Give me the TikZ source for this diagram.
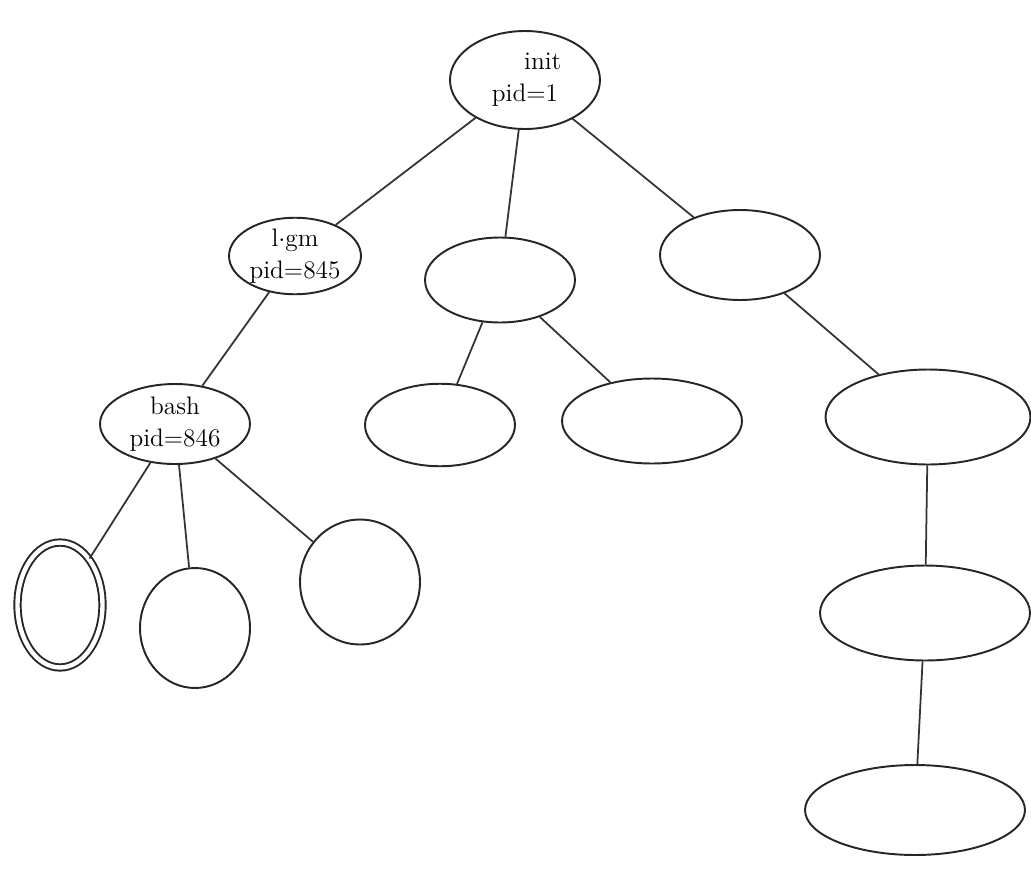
\documentclass[tikz,border=0pt]{standalone}
\usepackage{fontspec}
\usetikzlibrary{shapes.geometric}
\tikzset{
  proc/.style={ellipse, draw=black!85, line width=1.1pt, inner sep=0pt, align=center, font=\Large},
  edge/.style={draw=black!80, line width=1pt}
}

\begin{document}
\begin{tikzpicture}[x=0.02cm,y=-0.02cm]
  \useasboundingbox (0,0) rectangle (1031,872);
  % root and first level
  \node[proc, minimum width=3cm, minimum height=1.96cm] (init) at (525,80) {\hspace*{1.4em}init\\pid=1};
  \node[proc, minimum width=2.64cm, minimum height=1.4cm] (login) at (295,256) {l$\cdot$gm\\pid=845};
  \node[proc, minimum width=3cm, minimum height=1.7cm] (mid) at (500,280) {};
  \node[proc, minimum width=3.2cm, minimum height=1.8cm] (right) at (740,255) {};
  % second level
  \node[proc, minimum width=3cm, minimum height=1.6cm] (bash) at (175,424) {bash\\pid=846};
  \node[proc, minimum width=3cm, minimum height=1.65cm] (midl) at (440,425) {};
  \node[proc, minimum width=3.6cm, minimum height=1.7cm] (midr) at (652,421) {};
  \node[proc, minimum width=4.1cm, minimum height=1.9cm] (r1) at (928,417) {};
  % lower levels
  \node[proc, minimum width=4.2cm, minimum height=1.9cm] (r2) at (925,613) {};
  \node[proc, minimum width=4.4cm, minimum height=1.8cm] (r3) at (915,810) {};
  \node[proc, double, double distance=2.5pt, minimum width=1.7cm, minimum height=2.5cm] (b1) at (60,605) {};
  \node[proc, minimum width=2.2cm, minimum height=2.4cm] (b2) at (195,628) {};
  \node[proc, minimum width=2.4cm, minimum height=2.5cm] (b3) at (360,582) {};
  % connectors
  \draw[edge] (init) -- (login);
  \draw[edge] (init) -- (mid);
  \draw[edge] (init) -- (right);
  \draw[edge] (login) -- (bash);
  \draw[edge] (mid) -- (midl);
  \draw[edge] (mid) -- (midr);
  \draw[edge] (right) -- (r1);
  \draw[edge] (r1) -- (r2);
  \draw[edge] (r2) -- (r3);
  \draw[edge] (bash) -- (b1);
  \draw[edge] (bash) -- (b2);
  \draw[edge] (bash) -- (b3);
\end{tikzpicture}
\end{document}
